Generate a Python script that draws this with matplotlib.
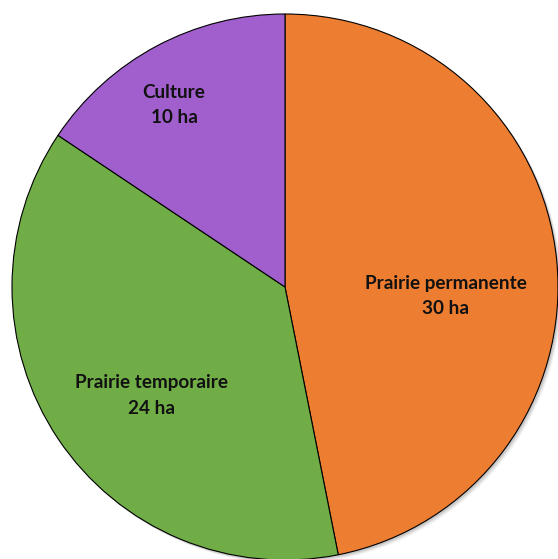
import numpy as np
import matplotlib
import matplotlib.pyplot as plt
from matplotlib.patches import Circle

matplotlib.rcParams['font.family'] = ['Lato', 'DejaVu Sans']

labels = ['Prairie permanente', 'Prairie temporaire', 'Culture']
values = [30, 24, 10]
colors = ['#ED7D31', '#70AD47', '#A05FCC']

# label placement inside each wedge (angle in degrees, radius fraction)
label_angle = [-3.2, -140.9, 121.4]
label_radius = [0.59, 0.63, 0.78]

W, H = 558, 559
fig = plt.figure(figsize=(W / 100, H / 100), dpi=100)
cx, cy, r = 285, 559 - 287, 273
ax = fig.add_axes([(cx - r) / W, (cy - r) / H, 2 * r / W, 2 * r / H])

# soft shadow behind the pie
for k, a in enumerate([0.10, 0.08, 0.06]):
    ax.add_patch(Circle((0.006 + 0.004 * k, -0.006 - 0.004 * k), 1.0, color='black',
                        alpha=a, lw=0, zorder=0))

wedges, _ = ax.pie(values, colors=colors, startangle=90, counterclock=False,
                   radius=1.0, wedgeprops=dict(edgecolor='black', linewidth=0.8))
for w in wedges:
    w.set_zorder(2)

for lab, v, ang, rad in zip(labels, values, label_angle, label_radius):
    t = np.deg2rad(ang)
    ax.text(rad * np.cos(t), rad * np.sin(t), f'{lab}\n{v} ha', ha='center', va='center',
            fontsize=13.6, fontweight='bold', color='#111111', linespacing=1.6, zorder=3)

ax.set_xlim(-1, 1)
ax.set_ylim(-1, 1)
ax.set_aspect('equal')
ax.axis('off')

plt.savefig('out.png', dpi=100)
